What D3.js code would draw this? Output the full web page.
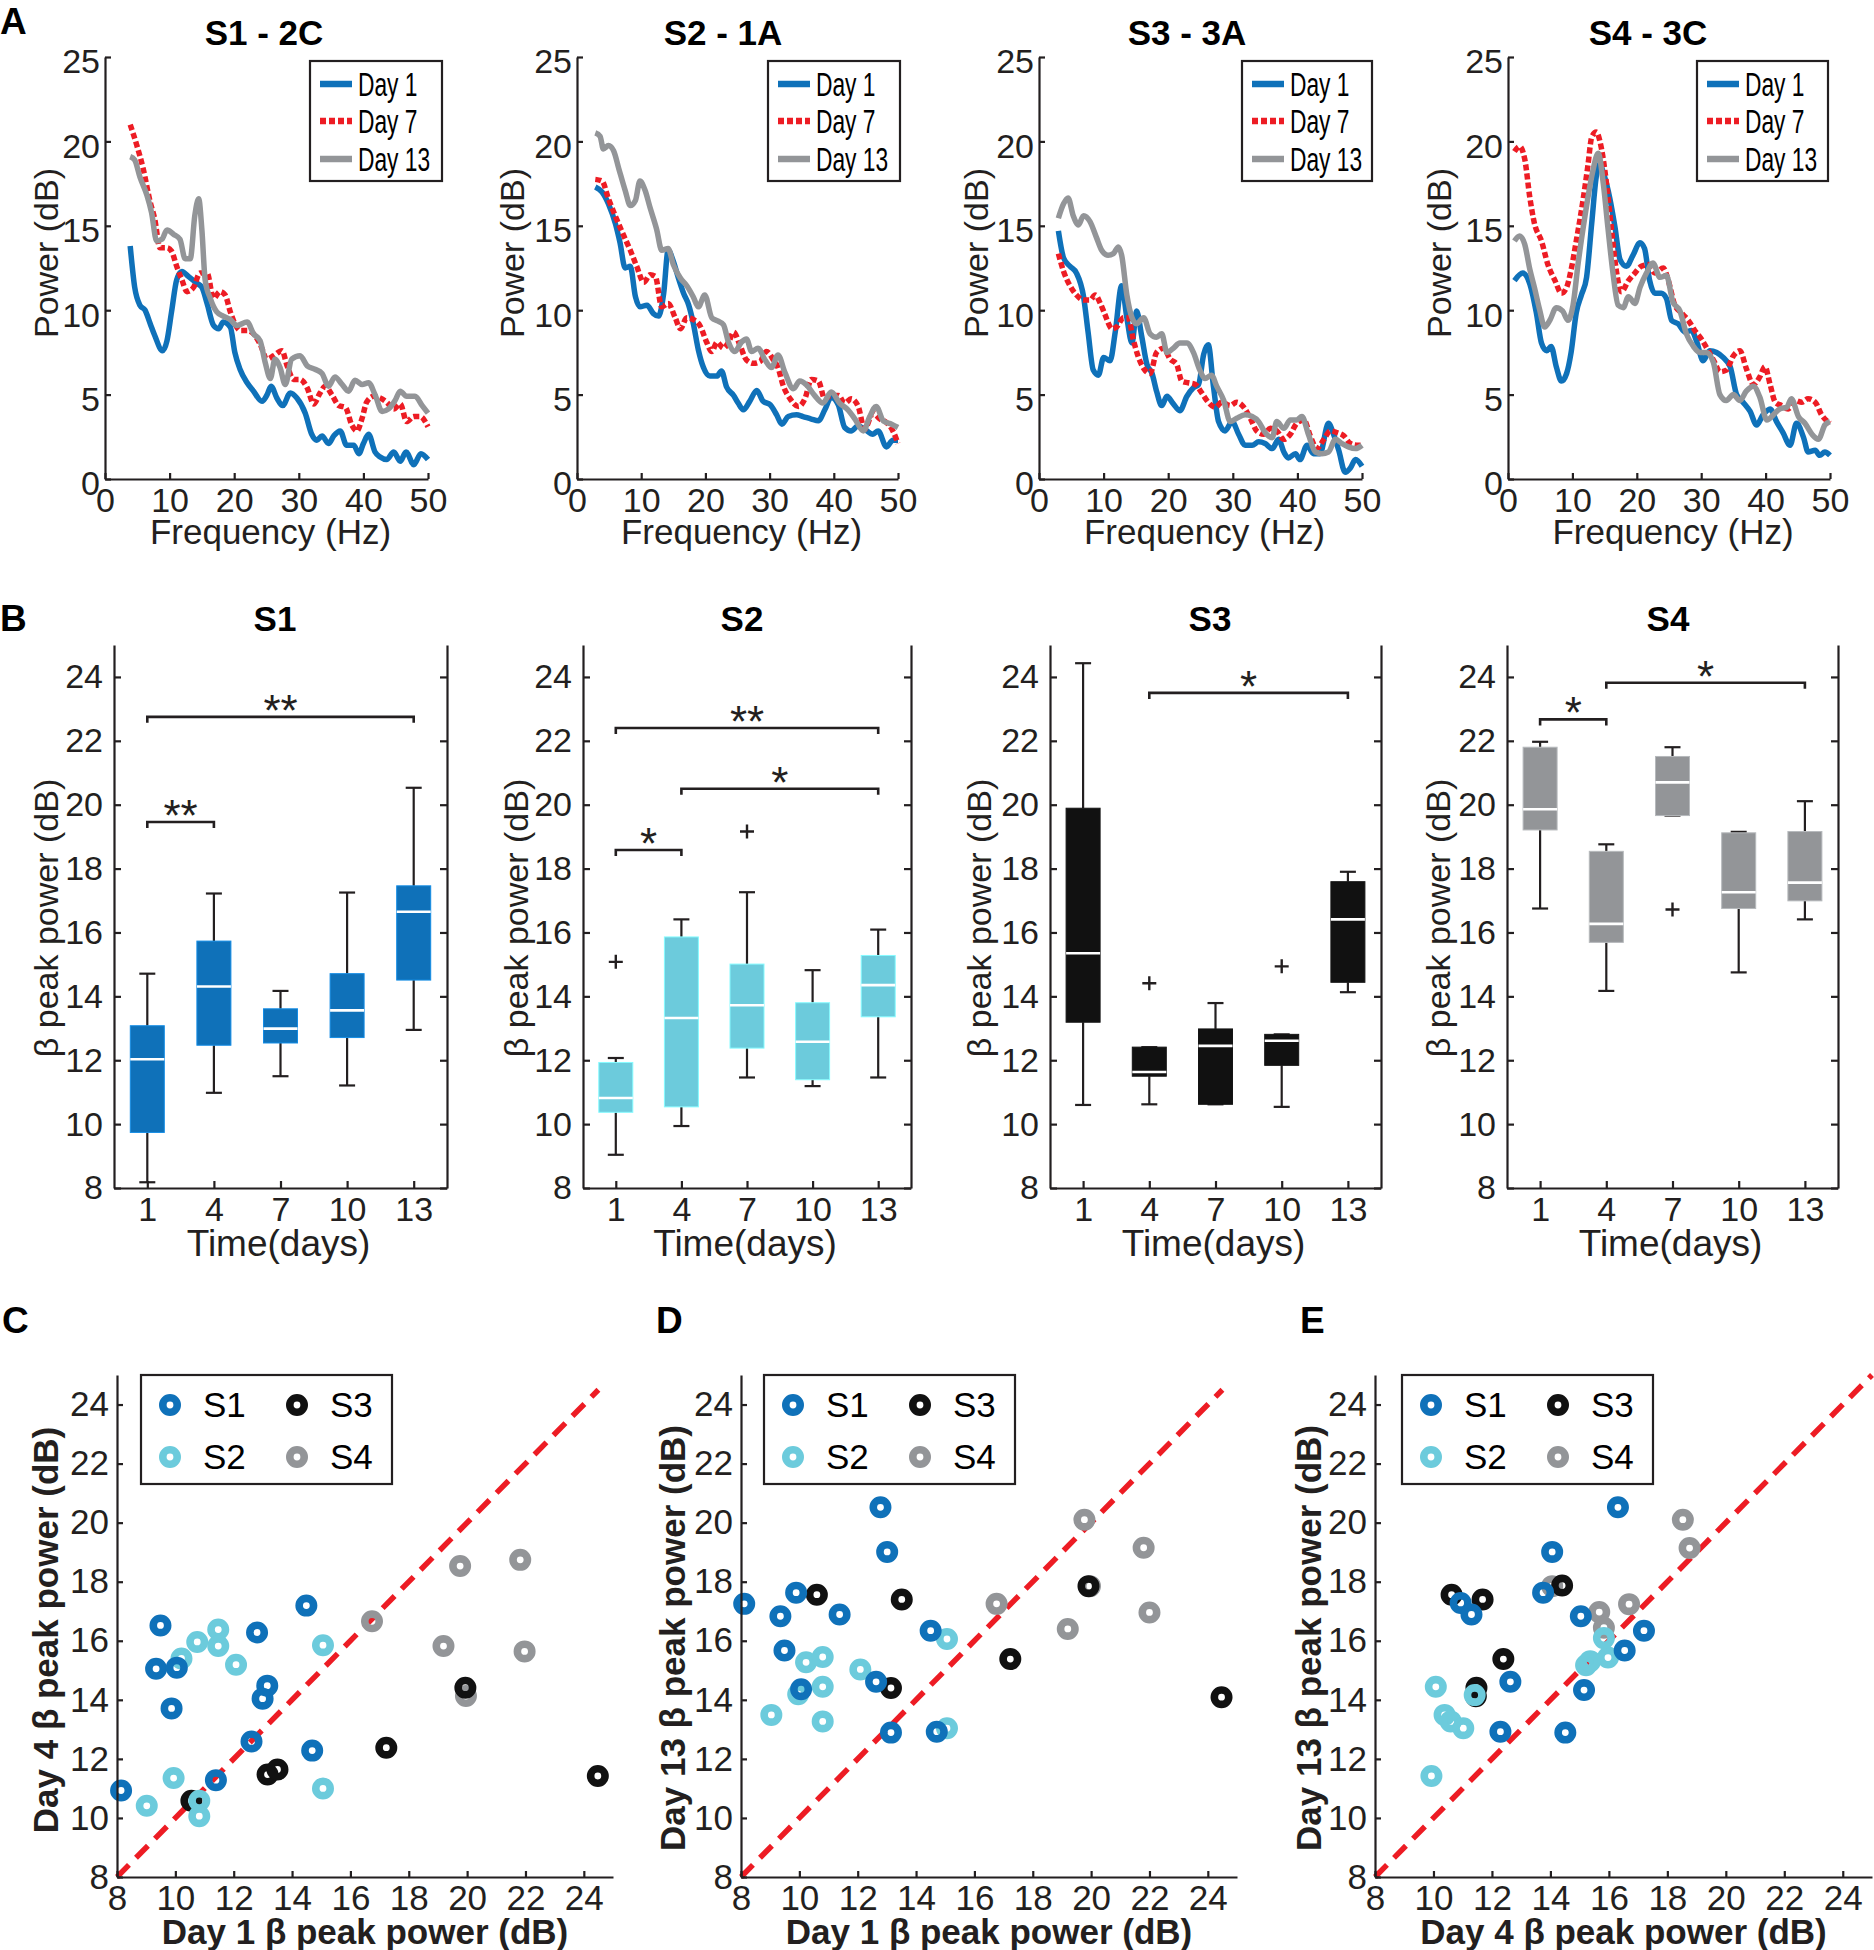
<!DOCTYPE html>
<html><head><meta charset="utf-8">
<script src="https://cdn.jsdelivr.net/npm/d3@7/dist/d3.min.js"></script>
<style>html,body{margin:0;padding:0;background:#fff;}svg{display:block}</style>
</head><body>
<svg id="fig" width="1874" height="1950" xmlns="http://www.w3.org/2000/svg"></svg>
<script>
// ================= DATA =================
// Panel A: power spectra, [frequency Hz, power dB]
const freqTicks = [0, 10, 20, 30, 40, 50];
const powerTicks = [0, 5, 10, 15, 20, 25];
const dayLabels = ["Day 1", "Day 7", "Day 13"];
const spectrumTitles = ["S1 - 2C", "S2 - 1A", "S3 - 3A", "S4 - 3C"];

const s1Day1 = [[3.9,13.8],[4.6,11.35],[5.4,10.3],[6.2,10.0],[7.0,9.2],[7.7,8.5],[8.9,7.6],[9.6,8.2],[10.3,9.9],[11.1,11.8],[11.9,12.3],[12.9,12.0],[14.2,11.6],[15.0,11.35],[15.8,10.4],[16.8,9.1],[17.6,8.9],[18.3,9.3],[19.4,9.0],[20.1,7.5],[20.9,6.5],[22.0,5.7],[23.0,5.2],[24.3,4.6],[25.1,5.0],[25.7,5.5],[26.6,4.8],[27.5,4.35],[28.7,5.1],[29.7,4.8],[31.0,3.9],[32.0,2.65],[32.8,2.3],[33.6,2.55],[34.6,2.1],[35.4,2.55],[36.4,2.85],[37.4,2.0],[38.5,2.0],[39.3,1.5],[40.0,2.1],[40.8,2.65],[41.8,1.6],[42.6,1.3],[43.6,1.15],[44.7,1.6],[45.7,1.05],[46.6,1.6],[47.8,0.85],[48.9,1.5],[50.0,1.15]];
const s1Day7 = [[3.9,21.0],[4.9,19.8],[5.9,18.4],[7.0,16.4],[7.7,15.4],[8.5,13.7],[9.6,13.7],[10.3,13.5],[11.1,12.6],[11.9,11.8],[12.7,11.1],[13.7,11.35],[14.7,12.2],[15.8,12.2],[16.8,10.7],[17.8,11.1],[18.6,10.9],[19.4,9.9],[20.1,9.2],[20.9,8.8],[22.0,8.8],[23.0,8.6],[24.0,8.0],[25.1,7.1],[26.1,7.3],[27.4,7.6],[28.2,6.7],[29.2,5.9],[30.2,5.9],[31.3,5.4],[32.3,4.45],[33.3,5.1],[34.1,5.5],[35.1,5.0],[36.2,4.35],[37.2,4.25],[38.2,3.2],[39.0,2.85],[39.8,3.6],[40.5,4.55],[41.6,4.9],[42.6,4.8],[43.6,4.55],[44.7,4.15],[45.7,4.45],[46.7,3.4],[47.8,3.7],[48.8,3.7],[50.0,3.1]];
const s1Day13 = [[3.9,19.1],[4.6,18.9],[5.4,17.9],[6.5,16.8],[7.2,15.8],[8.0,14.1],[8.8,14.2],[9.6,14.75],[10.6,14.5],[11.6,14.2],[12.4,13.05],[13.2,13.05],[13.9,15.6],[14.5,16.6],[15.0,14.75],[15.5,11.8],[16.3,10.7],[17.3,9.9],[18.3,9.65],[19.4,9.45],[20.4,9.1],[22.0,9.3],[23.0,8.6],[24.0,8.2],[24.8,6.9],[25.6,5.95],[26.3,7.1],[27.1,6.6],[27.9,5.6],[28.9,7.1],[30.2,7.3],[31.3,6.7],[32.5,6.5],[33.6,6.25],[34.6,5.5],[35.6,6.05],[36.7,5.6],[37.7,5.2],[38.7,5.85],[39.8,5.6],[40.8,5.7],[41.8,5.0],[42.9,4.0],[43.9,4.15],[44.9,4.65],[45.7,5.2],[46.7,4.9],[48.0,4.9],[49.1,4.35],[50.0,3.9]];

const s2Day1 = [[2.85,17.3],[3.9,17.0],[4.9,16.3],[6.0,15.1],[6.7,14.0],[7.5,12.5],[8.3,12.6],[9.1,10.8],[9.8,10.2],[10.9,10.3],[11.9,9.8],[12.7,9.65],[13.5,11.0],[14.2,13.55],[15.0,12.9],[15.8,11.9],[16.6,11.0],[17.4,10.3],[18.1,9.25],[18.9,7.65],[19.7,6.6],[20.7,6.1],[21.8,6.1],[22.5,6.4],[23.3,5.45],[24.4,4.95],[25.1,4.5],[25.9,4.1],[26.9,4.6],[28.0,5.25],[29.0,4.6],[30.1,4.4],[31.1,3.8],[31.9,3.25],[32.9,3.7],[34.2,3.8],[35.2,3.7],[36.5,3.55],[37.6,3.45],[38.6,4.1],[39.6,4.85],[40.7,4.4],[41.7,3.05],[42.7,2.85],[43.8,3.15],[44.8,2.95],[46.1,2.65],[46.9,2.85],[48.2,1.9],[49.2,2.3],[50.0,2.3]];
const s2Day7 = [[2.85,17.75],[3.9,17.65],[4.9,16.6],[6.0,15.55],[7.3,14.4],[8.3,13.55],[9.3,12.6],[10.4,11.65],[11.4,12.1],[12.2,12.0],[13.2,10.2],[14.2,10.4],[15.3,9.55],[16.1,8.9],[17.1,9.55],[18.1,9.45],[19.2,9.05],[20.2,8.1],[21.0,7.55],[21.8,8.1],[22.8,7.75],[23.6,8.1],[24.4,8.7],[25.4,7.9],[26.4,7.05],[27.5,6.85],[28.5,6.95],[29.5,7.55],[30.6,7.05],[31.3,6.6],[32.1,5.55],[33.2,4.75],[34.5,4.3],[35.5,4.75],[36.5,5.9],[37.6,5.8],[38.6,4.75],[39.6,4.95],[40.7,4.95],[41.7,4.5],[42.7,4.75],[43.8,4.3],[44.8,2.95],[46.1,3.9],[47.2,3.55],[48.2,3.35],[49.2,2.85],[50.0,2.1]];
const s2Day13 = [[2.85,20.5],[3.6,20.3],[4.1,19.55],[4.9,19.75],[5.7,19.45],[6.5,18.4],[7.5,17.1],[8.3,16.2],[9.1,16.5],[9.8,17.65],[10.6,17.1],[11.4,16.05],[12.4,14.8],[13.2,13.55],[14.2,13.65],[15.0,12.7],[16.1,11.9],[17.1,11.45],[18.1,10.8],[18.9,10.2],[19.9,10.9],[21.0,9.55],[22.0,9.35],[22.8,9.15],[23.6,8.1],[24.6,7.55],[25.6,8.1],[26.4,8.3],[27.2,7.55],[28.2,7.75],[29.3,7.05],[30.3,6.6],[31.3,7.35],[32.4,6.3],[33.7,5.35],[34.7,5.8],[35.8,5.55],[37.0,4.95],[38.3,4.5],[39.6,5.15],[40.9,4.5],[42.2,4.1],[43.3,3.55],[44.6,2.85],[45.6,3.7],[46.6,4.3],[47.7,3.45],[49.0,3.25],[50.0,3.05]];

const s3Day1 = [[3.0,14.7],[3.8,13.1],[4.8,12.6],[5.8,12.2],[6.9,10.8],[7.6,8.7],[8.4,6.45],[9.2,6.15],[10.0,7.2],[11.0,7.0],[11.8,8.7],[12.8,11.45],[13.6,9.55],[14.4,8.05],[15.1,9.95],[15.9,8.45],[16.7,6.8],[17.5,6.25],[18.2,5.2],[19.0,4.35],[19.8,4.9],[20.8,4.45],[21.8,4.05],[22.9,4.9],[23.9,5.4],[24.7,5.6],[25.5,7.4],[26.2,7.95],[27.0,5.5],[27.8,3.4],[28.8,2.85],[29.9,3.4],[30.9,2.65],[31.9,2.0],[33.0,2.0],[34.0,2.2],[35.0,2.1],[36.1,1.8],[37.1,2.35],[37.9,1.6],[38.6,1.25],[39.7,1.5],[40.4,1.15],[41.5,2.0],[42.5,1.5],[43.5,1.5],[44.8,3.3],[45.6,2.65],[46.4,1.7],[47.4,0.4],[48.2,0.65],[49.0,1.15],[50.0,0.75]];
const s3Day7 = [[3.0,13.35],[3.8,12.3],[4.8,11.45],[5.8,10.9],[6.9,10.6],[7.9,10.6],[8.7,10.9],[9.5,10.4],[10.2,9.75],[11.3,8.9],[12.0,9.0],[13.1,9.55],[13.8,9.55],[14.6,8.25],[15.4,7.2],[16.2,6.55],[17.2,6.25],[18.2,7.5],[19.3,7.75],[20.3,7.1],[21.3,6.8],[22.1,5.8],[23.1,5.7],[24.2,5.6],[25.2,5.1],[26.2,4.55],[27.3,4.25],[28.3,4.55],[29.6,4.35],[30.6,4.55],[31.7,4.25],[32.7,3.6],[33.7,2.85],[34.8,2.65],[35.8,3.0],[36.8,2.85],[37.9,2.35],[38.9,2.65],[39.9,3.3],[41.0,3.5],[42.0,2.55],[43.0,1.8],[44.1,2.35],[45.1,2.85],[46.1,2.75],[47.2,2.55],[48.2,2.1],[49.2,2.0],[50.0,2.0]];
const s3Day13 = [[3.0,15.45],[3.8,16.3],[4.5,16.65],[5.3,15.6],[6.1,15.05],[6.9,15.6],[7.9,15.25],[8.9,14.3],[9.7,13.55],[10.7,13.25],[11.5,13.35],[12.3,13.75],[12.8,13.25],[13.6,10.9],[14.4,9.55],[15.1,9.2],[16.2,9.55],[17.2,8.6],[18.2,8.4],[19.0,8.6],[19.8,7.5],[20.8,7.75],[21.8,8.05],[22.9,8.05],[23.9,7.5],[24.9,6.45],[25.7,5.95],[26.7,6.15],[27.5,5.5],[28.6,4.65],[29.6,3.4],[30.6,3.6],[31.9,3.8],[33.0,3.7],[34.0,3.4],[35.0,2.75],[36.1,2.45],[36.8,3.4],[37.9,3.0],[38.9,3.5],[39.9,3.5],[40.7,3.7],[41.7,2.65],[42.8,1.6],[43.8,1.5],[44.8,1.6],[45.9,2.35],[46.9,2.1],[47.9,1.9],[49.0,1.8],[50.0,2.0]];

const s4Day1 = [[1.0,11.75],[2.3,12.2],[3.4,11.55],[4.4,9.85],[5.2,8.05],[6.0,7.6],[6.7,7.85],[7.5,6.65],[8.3,5.8],[9.1,6.25],[9.8,7.5],[10.6,9.85],[11.4,10.9],[12.2,11.95],[13.0,15.15],[13.7,17.9],[14.2,18.65],[15.0,17.9],[15.8,16.65],[16.6,14.95],[17.4,13.0],[18.4,12.6],[19.4,13.25],[20.5,14.0],[21.2,13.65],[22.0,11.75],[22.8,11.0],[23.8,11.0],[24.6,10.7],[25.4,9.4],[26.4,9.2],[27.5,8.7],[28.5,8.8],[29.3,8.15],[30.3,7.0],[31.3,7.6],[32.4,7.5],[33.4,7.2],[34.5,6.65],[35.5,5.0],[36.5,4.55],[37.6,4.0],[38.6,3.2],[39.6,3.8],[40.7,4.15],[41.7,3.4],[42.7,2.75],[43.8,2.0],[44.8,3.3],[45.9,2.45],[46.6,1.6],[47.7,1.7],[48.4,1.4],[49.2,1.6],[50.0,1.4]];
const s4Day7 = [[1.0,19.4],[1.8,19.7],[2.6,18.95],[3.4,16.65],[4.1,15.15],[5.2,14.1],[6.2,12.7],[7.3,11.75],[8.3,11.0],[9.1,11.35],[9.8,12.4],[10.6,14.1],[11.7,16.65],[12.4,18.55],[13.0,20.25],[13.7,20.55],[14.5,19.6],[15.3,17.5],[16.1,14.7],[16.8,12.4],[17.6,11.1],[18.7,11.75],[19.7,12.2],[20.7,12.6],[21.8,12.7],[22.8,12.2],[24.1,12.5],[24.9,11.75],[25.9,10.3],[26.9,9.85],[28.0,9.4],[29.0,8.8],[30.1,8.25],[31.1,7.6],[32.1,6.9],[32.9,6.35],[33.9,6.45],[35.0,7.3],[36.0,7.6],[37.0,6.55],[38.1,5.6],[39.1,6.05],[39.9,6.65],[40.7,5.6],[41.5,4.55],[42.5,4.35],[43.5,4.15],[44.6,4.65],[45.6,4.55],[46.6,4.75],[47.7,4.55],[48.7,3.8],[50.0,3.3]];
const s4Day13 = [[1.0,14.1],[1.8,14.4],[2.6,13.9],[3.4,12.4],[4.1,11.35],[4.9,10.05],[5.7,9.0],[6.5,9.4],[7.5,10.15],[8.5,9.95],[9.3,9.4],[10.1,10.3],[10.9,12.8],[11.7,14.95],[12.4,16.65],[13.2,18.3],[14.0,19.3],[14.8,17.5],[15.5,14.95],[16.3,12.2],[17.1,10.3],[17.9,10.15],[18.7,10.8],[19.7,10.4],[20.5,11.35],[21.5,12.2],[22.5,12.8],[23.6,11.95],[24.6,12.05],[25.6,10.5],[26.7,9.95],[27.7,8.6],[28.8,7.85],[29.8,7.5],[30.8,7.5],[31.9,6.9],[32.9,5.0],[33.9,4.65],[35.0,5.0],[36.0,4.65],[37.0,5.2],[38.1,5.5],[39.1,4.85],[40.2,3.5],[41.2,3.8],[42.2,4.15],[43.3,4.25],[44.0,4.75],[45.1,3.7],[46.1,3.3],[47.2,2.65],[48.2,2.35],[49.2,3.2],[50.0,3.4]];

const spectra = [[s1Day1, s1Day7, s1Day13], [s2Day1, s2Day7, s2Day13], [s3Day1, s3Day7, s3Day13], [s4Day1, s4Day7, s4Day13]];

// Panel B: beta peak power box plots  [whiskerLow, q1, median, q3, whiskerHigh]
const subjects = ["S1", "S2", "S3", "S4"];
const days = [1, 4, 7, 10, 13];
const betaTicks = [8, 10, 12, 14, 16, 18, 20, 22, 24];
const boxS1 = [[8.18,9.74,12.03,13.08,14.71],[10.98,12.47,14.31,15.73,17.22],[11.5,12.54,12.99,13.61,14.17],[11.21,12.71,13.56,14.71,17.25],[12.95,14.51,16.65,17.46,20.53]];
const boxS2 = [[9.04,10.37,10.82,11.93,12.07],[9.94,10.54,13.32,15.86,16.41],[11.46,12.38,13.72,15.01,17.26],[11.19,11.39,12.58,13.80,14.82],[11.46,13.36,14.35,15.28,16.09]];
const boxS3 = [[10.6,13.19,15.35,19.89,24.43],[10.62,11.5,11.63,12.41,12.41],[10.62,10.62,12.45,12.98,13.79],[10.54,11.84,12.61,12.81,12.81],[14.13,14.44,16.41,17.59,17.9]];
const boxS4 = [[16.75,19.21,19.86,21.80,21.97],[14.17,15.69,16.27,18.54,18.76],[19.66,19.66,20.70,21.51,21.80],[14.75,16.75,17.26,19.12,19.15],[16.41,16.99,17.56,19.16,20.11]];
// outliers [day, value]
const outS1 = [];
const outS2 = [[1,15.08],[7,19.16]];
const outS3 = [[4,14.41],[10,14.94]];
const outS4 = [[7,16.72]];
// significance brackets [fromDay, toDay, level (dB), label]
const sigS1 = [[1,13,22.75,"**"],[1,4,19.46,"**"]];
const sigS2 = [[1,13,22.4,"**"],[4,13,20.5,"*"],[1,4,18.58,"*"]];
const sigS3 = [[4,13,23.5,"*"]];
const sigS4 = [[1,4,22.67,"*"],[4,13,23.82,"*"]];
const boxes = [boxS1, boxS2, boxS3, boxS4];
const outliers = [outS1, outS2, outS3, outS4];
const sigs = [sigS1, sigS2, sigS3, sigS4];

// Panels C-E: scatter [x, y]
const scatterTicks = [8, 10, 12, 14, 16, 18, 20, 22, 24];
const cS1 = [[8.14,10.93],[9.49,16.52],[9.34,15.05],[10.05,15.09],[9.87,13.71],[12.80,16.28],[13.15,14.48],[12.99,14.04],[12.61,12.59],[11.39,11.28],[14.49,17.19],[14.69,12.28]];
const cS2 = [[11.47,16.38],[11.47,15.82],[10.75,15.96],[10.21,15.40],[12.08,15.19],[15.06,15.85],[15.06,11.0],[9.94,11.35],[9.02,10.41],[10.82,10.58],[10.82,10.06]];
const cS3 = [[10.55,10.58],[13.16,11.47],[13.50,11.64],[17.23,12.38],[19.94,14.41],[24.48,11.42]];
const cS4 = [[16.74,16.66],[19.76,18.53],[21.82,18.74],[19.19,15.82],[21.97,15.64],[19.96,14.13]];
const dS1 = [[8.11,17.25],[9.89,17.63],[9.35,16.83],[11.38,16.89],[9.49,15.67],[10.06,14.36],[12.78,20.52],[13.01,19.01],[12.63,14.61],[13.14,12.89],[14.50,16.34],[14.71,12.92]];
const dS2 = [[10.23,15.27],[10.80,15.45],[10.80,14.44],[9.96,14.19],[9.04,13.49],[10.80,13.27],[12.09,15.03],[15.06,16.06],[15.06,13.04]];
const dS3 = [[10.60,17.56],[13.51,17.40],[13.14,14.40],[17.23,15.38],[19.91,17.85],[24.47,14.09]];
const dS4 = [[16.76,17.25],[19.77,20.10],[21.80,19.15],[19.20,16.40],[22.0,16.96],[19.96,17.85]];
const eS1 = [[10.93,17.28],[11.30,16.89],[12.29,12.92],[12.63,14.61],[13.75,17.63],[14.06,19.01],[16.31,20.52],[15.04,16.83],[15.15,14.33],[16.54,15.67],[17.20,16.34],[14.51,12.89]];
const eS2 = [[9.93,11.42],[10.08,14.44],[10.38,13.49],[10.59,13.27],[11.02,13.04],[11.41,14.16],[15.22,15.17],[15.36,15.31],[15.97,15.43],[15.83,16.09]];
const eS3 = [[10.62,17.56],[11.68,17.40],[12.39,15.38],[11.47,14.41],[11.45,14.12],[14.40,17.87]];
const eS4 = [[14.06,17.85],[15.67,16.97],[15.83,16.44],[16.69,17.24],[18.53,20.10],[18.76,19.14]];
const scatterSets = [[cS1, cS2, cS3, cS4], [dS1, dS2, dS3, dS4], [eS1, eS2, eS3, eS4]];
const scatterXLabels = ["Day 1 β peak power (dB)", "Day 1 β peak power (dB)", "Day 4 β peak power (dB)"];
const scatterYLabels = ["Day 4 β peak power (dB)", "Day 13 β peak power (dB)", "Day 13 β peak power (dB)"];
const identityEnds = [[8, 24.5], [8, 24.5], [8, 25]];

// ================= STYLE / LAYOUT =================
const FONT = "'Liberation Sans', Arial, Helvetica, sans-serif";
const INK = "#231f20";
const dayColors = ["#0f71b9", "#ed1c24", "#939598"];
const subjColors = ["#0f71b9", "#6ccbdc", "#111111", "#939598"];

const svg = d3.select("#fig");

function txt(g, x, y, s, o = {}) {
  const sx = o.sx ?? 1, rot = o.rot ?? 0;
  return g.append("text")
    .attr("transform", `translate(${x},${y}) scale(${sx},1)` + (rot ? ` rotate(${rot})` : ""))
    .attr("text-anchor", o.anchor ?? "middle")
    .attr("dy", o.dy ?? null)
    .attr("font-family", FONT)
    .attr("font-size", o.size ?? 34)
    .attr("font-weight", o.bold ? "bold" : "normal")
    .attr("fill", o.fill ?? INK)
    .text(s);
}
function styleAxis(g, size) {
  g.attr("font-family", null).attr("font-size", null);
  g.select(".domain").attr("stroke", INK).attr("stroke-width", 2.2);
  g.selectAll(".tick line").attr("stroke", INK).attr("stroke-width", 2.2);
  g.selectAll(".tick text").attr("font-family", FONT).attr("font-size", size).attr("fill", INK);
}

// Panel letters
[["A", 0, 34], ["B", 0, 631], ["C", 2, 1333], ["D", 656, 1333], ["E", 1300, 1333]].forEach(([l, x, y]) =>
  txt(svg, x, y, l, { anchor: "start", size: 37, bold: true, fill: "#000" }));

// ================= PANEL A =================
const A_TOP = 57, A_BOTTOM = 479;
const A_LAYOUT = [
  { left: 105, right: 428, titleX: 264, ylabX: 46, legX: 310, legW: 132 },
  { left: 577, right: 898, titleX: 723, ylabX: 512, legX: 768, legW: 132 },
  { left: 1039, right: 1362, titleX: 1187, ylabX: 976, legX: 1242, legW: 130 },
  { left: 1508, right: 1830, titleX: 1648, ylabX: 1439, legX: 1697, legW: 131 }];

A_LAYOUT.forEach((L, i) => {
  const g = svg.append("g");
  const x = d3.scaleLinear().domain([0, 50]).range([L.left, L.right]);
  const y = d3.scaleLinear().domain([0, 25]).range([A_BOTTOM, A_TOP]);
  const line = d3.line().x(d => x(d[0])).y(d => y(d[1])).curve(d3.curveMonotoneX);
  spectra[i].forEach((s, k) => {
    g.append("path").attr("d", line(s)).attr("fill", "none")
      .attr("stroke", dayColors[k]).attr("stroke-width", 5.5)
      .attr("stroke-linejoin", "round")
      .attr("stroke-dasharray", k === 1 ? "6,3" : null);
  });
  const ax = g.append("g").attr("transform", `translate(${L.left},0)`)
    .call(d3.axisLeft(y).tickValues(powerTicks).tickFormat(d3.format("d")).tickSizeInner(-6).tickSizeOuter(0).tickPadding(5));
  styleAxis(ax, 34);
  ax.selectAll(".tick text").attr("y", 5);
  const bx = g.append("g").attr("transform", `translate(0,${A_BOTTOM})`)
    .call(d3.axisBottom(x).tickValues(freqTicks).tickFormat(d3.format("d")).tickSizeInner(-6).tickSizeOuter(0));
  styleAxis(bx, 34);
  bx.selectAll(".tick text").attr("y", 33).attr("dy", 0);
  txt(g, L.titleX, 45, spectrumTitles[i], { size: 35, bold: true, fill: "#000" });
  txt(g, (L.left + L.right) / 2 + 4, 544, "Frequency (Hz)", { size: 35 });
  txt(g, L.ylabX, 253, "Power (dB)", { size: 34, rot: -90, dy: "0.35em" });
  // legend
  const lg = g.append("g").attr("transform", `translate(${L.legX},61)`);
  lg.append("rect").attr("width", L.legW).attr("height", 120).attr("fill", "#fff")
    .attr("stroke", INK).attr("stroke-width", 2.2);
  dayLabels.forEach((d, k) => {
    const yy = [23, 60, 98][k];
    lg.append("line").attr("x1", 10).attr("x2", 42).attr("y1", yy).attr("y2", yy)
      .attr("stroke", dayColors[k]).attr("stroke-width", 6.5)
      .attr("stroke-dasharray", k === 1 ? "6,3" : null);
    txt(lg, 48, yy + 12, d, { anchor: "start", size: 34, sx: 0.67, fill: "#000" });
  });
});

// ================= PANEL B =================
const B_TOP = 645, B_BOTTOM = 1188;
const B_LAYOUT = [
  { left: 114, right: 447, titleX: 275, ylabX: 46 },
  { left: 583, right: 911, titleX: 742, ylabX: 516 },
  { left: 1050, right: 1381, titleX: 1210, ylabX: 979 },
  { left: 1507, right: 1838, titleX: 1668, ylabX: 1438 }];

B_LAYOUT.forEach((L, i) => {
  const g = svg.append("g");
  const x = d3.scaleLinear().domain([0.5, 5.5]).range([L.left, L.right]);
  const y = d3.scaleLinear().domain([8, 25]).range([B_BOTTOM, B_TOP]);
  const col = subjColors[i];
  const bw = 34, cap = 16;
  boxes[i].forEach((b, j) => {
    const [lo, q1, med, q3, hi] = b, cx = x(j + 1);
    g.append("line").attr("x1", cx).attr("x2", cx).attr("y1", y(hi)).attr("y2", y(q3)).attr("stroke", INK).attr("stroke-width", 2.2);
    g.append("line").attr("x1", cx).attr("x2", cx).attr("y1", y(q1)).attr("y2", y(lo)).attr("stroke", INK).attr("stroke-width", 2.2);
    g.append("line").attr("x1", cx - cap / 2).attr("x2", cx + cap / 2).attr("y1", y(hi)).attr("y2", y(hi)).attr("stroke", INK).attr("stroke-width", 2.2);
    g.append("line").attr("x1", cx - cap / 2).attr("x2", cx + cap / 2).attr("y1", y(lo)).attr("y2", y(lo)).attr("stroke", INK).attr("stroke-width", 2.2);
    g.append("rect").attr("x", cx - bw / 2).attr("width", bw).attr("y", y(q3)).attr("height", Math.max(1, y(q1) - y(q3)))
      .attr("fill", col).attr("stroke", d3.color(col).brighter(0.6)).attr("stroke-width", 1);
    g.append("line").attr("x1", cx - bw / 2).attr("x2", cx + bw / 2).attr("y1", y(med)).attr("y2", y(med)).attr("stroke", "#fff").attr("stroke-width", 2.6);
  });
  outliers[i].forEach(([d, v]) => {
    const cx = x(days.indexOf(d) + 1), cy = y(v);
    g.append("path").attr("d", `M${cx - 7},${cy}H${cx + 7}M${cx},${cy - 7}V${cy + 7}`).attr("stroke", INK).attr("stroke-width", 2.4);
  });
  sigs[i].forEach(([a, b, v, lab]) => {
    const x1 = x(days.indexOf(a) + 1), x2 = x(days.indexOf(b) + 1), yy = y(v);
    g.append("path").attr("d", `M${x1},${yy + 6}V${yy}H${x2}V${yy + 6}`).attr("fill", "none").attr("stroke", INK).attr("stroke-width", 2.6);
    txt(g, (x1 + x2) / 2, yy + 9, lab, { size: 44, fill: INK });
  });
  const ax = g.append("g").attr("transform", `translate(${L.left},0)`)
    .call(d3.axisLeft(y).tickValues(betaTicks).tickSizeInner(-7).tickSizeOuter(0).tickPadding(11));
  styleAxis(ax, 34);
  const ar = g.append("g").attr("transform", `translate(${L.right},0)`)
    .call(d3.axisRight(y).tickValues(betaTicks).tickFormat("").tickSizeInner(-7).tickSizeOuter(0));
  styleAxis(ar, 34);
  const bx = g.append("g").attr("transform", `translate(0,${B_BOTTOM})`)
    .call(d3.axisBottom(x).tickValues([1, 2, 3, 4, 5]).tickFormat(j => days[j - 1]).tickSizeInner(-7).tickSizeOuter(0));
  styleAxis(bx, 34);
  bx.selectAll(".tick text").attr("y", 33).attr("dy", 0);
  txt(g, L.titleX, 631, subjects[i], { size: 35, bold: true, fill: "#000" });
  txt(g, (L.left + L.right) / 2 - 2, 1256, "Time(days)", { size: 37 });
  txt(g, L.ylabX, 918, "β peak power (dB)", { size: 34, rot: -90, dy: "0.35em" });
});

// ================= PANELS C-E =================
const S_TOP = 1375, S_BOTTOM = 1877;
const S_LAYOUT = [
  { left: 117, right: 613, ylabX: 46, ylabY: 1630, legX: 141 },
  { left: 741, right: 1237, ylabX: 673, ylabY: 1638, legX: 764 },
  { left: 1375, right: 1872, ylabX: 1309, ylabY: 1638, legX: 1402 }];
const drawOrder = [3, 2, 1, 0];

S_LAYOUT.forEach((L, p) => {
  const g = svg.append("g");
  const x = d3.scaleLinear().domain([8, 25]).range([L.left, L.right]);
  const y = d3.scaleLinear().domain([8, 25]).range([S_BOTTOM, S_TOP]);
  const [e0, e1] = identityEnds[p];
  g.append("line").attr("x1", x(e0)).attr("y1", y(e0)).attr("x2", x(e1)).attr("y2", y(e1))
    .attr("stroke", "#ed1c24").attr("stroke-width", 5.5).attr("stroke-dasharray", "17,10");
  drawOrder.forEach(s => {
    g.selectAll(null).data(scatterSets[p][s]).enter().append("circle")
      .attr("cx", d => x(d[0])).attr("cy", d => y(d[1])).attr("r", 7.2)
      .attr("fill", "none").attr("stroke", subjColors[s]).attr("stroke-width", 7.6);
  });
  const ax = g.append("g").attr("transform", `translate(${L.left},0)`)
    .call(d3.axisLeft(y).tickValues(scatterTicks).tickSizeInner(-6).tickSizeOuter(0).tickPadding(8));
  styleAxis(ax, 35);
  const bx = g.append("g").attr("transform", `translate(0,${S_BOTTOM})`)
    .call(d3.axisBottom(x).tickValues(scatterTicks).tickSizeInner(-6).tickSizeOuter(0));
  styleAxis(bx, 35);
  bx.selectAll(".tick text").attr("y", 33).attr("dy", 0);
  txt(g, (L.left + L.right) / 2, 1944, scatterXLabels[p], { size: 35, bold: true });
  txt(g, L.ylabX, L.ylabY, scatterYLabels[p], { size: 35, bold: true, rot: -90, dy: "0.35em" });
  // legend
  const lg = g.append("g").attr("transform", `translate(${L.legX},${S_TOP})`);
  lg.append("rect").attr("width", 251).attr("height", 109).attr("fill", "#fff").attr("stroke", INK).attr("stroke-width", 2.2);
  const slots = [[29, 30], [29, 82], [156, 30], [156, 82]];
  subjects.forEach((s, k) => {
    const [mx, my] = slots[k];
    lg.append("circle").attr("cx", mx).attr("cy", my).attr("r", 7.2).attr("fill", "none")
      .attr("stroke", subjColors[k]).attr("stroke-width", 7.6);
    txt(lg, mx + 33, my + 12, s, { anchor: "start", size: 35, fill: "#000" });
  });
});
</script>
</body></html>
